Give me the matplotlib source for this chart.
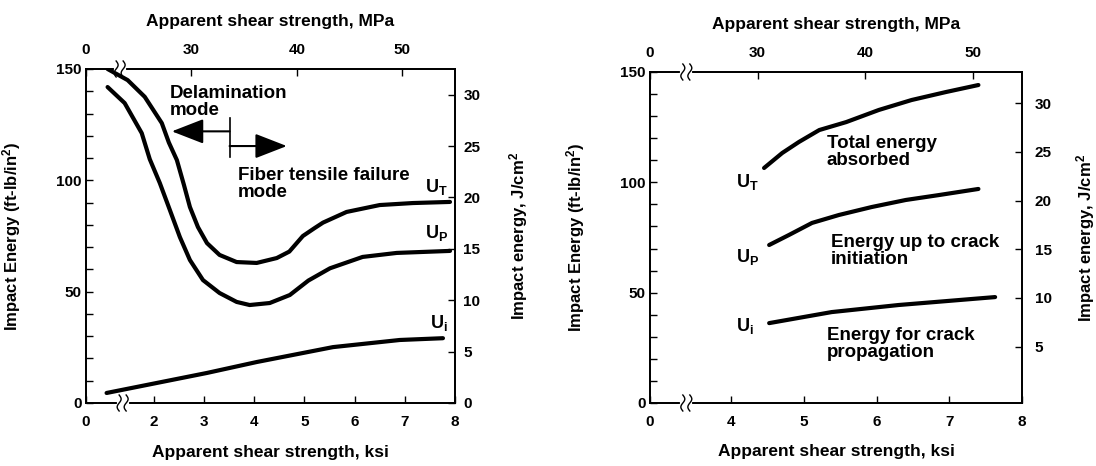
import numpy as np
import matplotlib
matplotlib.use("Agg")
import matplotlib.pyplot as plt
from matplotlib.lines import Line2D
from matplotlib.transforms import IdentityTransform

plt.rcParams['font.family'] = ['Liberation Sans', 'DejaVu Sans']
plt.rcParams['font.weight'] = 'bold'
plt.rcParams['axes.labelweight'] = 'bold'
plt.rcParams['mathtext.default'] = 'regular'

# left panel: apparent shear strength (ksi) vs impact energy (ft-lb/in2)
l_ut_k = [1.08, 1.48, 1.82, 2.16, 2.3, 2.46, 2.6, 2.72, 2.88, 3.06, 3.31, 3.65, 4.05,
          4.45, 4.7, 4.97, 5.2, 5.37, 5.84, 6.5, 7.16, 7.9]
l_ut_e = [150, 145, 137.5, 125.7, 117, 109.1, 98, 88, 79, 71.8, 66.5, 63.3, 62.9,
          65.1, 68, 75, 78.5, 81, 85.8, 88.9, 89.8, 90.3]
l_up_k = [1.08, 1.42, 1.76, 1.92, 2.12, 2.32, 2.52, 2.72, 2.98, 3.31, 3.65, 3.91,
          4.31, 4.71, 5.08, 5.51, 6.16, 6.84, 7.9]
l_up_e = [141.9, 134.7, 121.2, 109.5, 98.8, 86.7, 74.5, 64.2, 55.2, 49.4, 45.4, 44.0,
          44.9, 48.5, 55, 60.5, 65.6, 67.4, 68.3]
l_ui_k = [1.06, 3.06, 4.05, 5.57, 6.9, 7.76]
l_ui_e = [4.5, 13.5, 18.4, 25.1, 28.3, 29.1]

# right panel
r_ut_k = [4.45, 4.7, 4.93, 5.21, 5.58, 6.03, 6.48, 6.95, 7.4]
r_ut_e = [106.5, 113.3, 118.3, 123.7, 127.3, 132.8, 137.3, 140.9, 144.1]
r_up_k = [4.52, 4.79, 5.11, 5.48, 5.93, 6.4, 6.85, 7.4]
r_up_e = [71.6, 76.1, 81.6, 85.2, 88.8, 92.0, 94.2, 97.0]
r_ui_k = [4.52, 5.38, 6.3, 7.63]
r_ui_e = [36.2, 41.2, 44.4, 48]

fig = plt.figure(figsize=(10.96, 4.66), dpi=100)

W, H = 1096.0, 466.0


def make_axes(left, right, top, bottom):
    return fig.add_axes([left / W, 1 - bottom / H, (right - left) / W, (bottom - top) / H])


def style_axis(ax):
    for s in ax.spines.values():
        s.set_linewidth(1.1)


def brk(ax, xdata, yaxes):
    tr = ax.get_xaxis_transform()
    px, py = tr.transform((xdata, yaxes))
    fig.add_artist(Line2D([px - 4, px + 4], [py, py], color='white', lw=3,
                          transform=IdentityTransform(), zorder=10))
    t = np.linspace(-1, 1, 15)
    for dx in (-3.5, 3.5):
        xs = px + dx + 2.0 * np.sin(np.pi * t)
        ys = py + 8 * t
        fig.add_artist(Line2D(xs, ys, color='black', lw=1.0,
                              transform=IdentityTransform(), zorder=11))


def panel(ax, xmin, kticks, top_lim, r_lim, r_ticks, r_pad):
    ax.set_xlim(xmin, 8)
    ax.set_ylim(0, 150)
    ax.set_xticks([xmin] + kticks)
    ax.set_xticklabels(['0'] + [str(k) for k in kticks])
    ax.set_yticks([0, 50, 100, 150])
    ax.set_yticks(np.arange(10, 150, 10), minor=True)
    ax.tick_params(axis='x', direction='in', length=5, width=1, pad=8.5, labelsize=11)
    ax.tick_params(axis='y', which='both', direction='in', length=5, width=1, pad=3,
                   labelsize=11)
    style_axis(ax)
    ax.set_xlabel('Apparent shear strength, ksi', fontsize=12.5)
    ax.xaxis.set_label_coords(0.5, -0.125)
    ax.set_ylabel('Impact Energy (ft-lb/in$^2$)', fontsize=12)
    ax.yaxis.set_label_coords(-0.17, 0.5)

    axt = ax.twiny()
    axt.set_xlim(*top_lim)
    axt.set_xticks([top_lim[0], 30, 40, 50])
    axt.set_xticklabels(['0', '30', '40', '50'])
    axt.tick_params(axis='x', direction='in', length=5, width=1, pad=8.5, labelsize=11)
    axt.set_xlabel('Apparent shear strength, MPa', fontsize=12.5)
    axt.xaxis.set_label_coords(0.5, 1.13)

    axr = ax.twinx()
    axr.set_ylim(*r_lim)
    axr.set_yticks(r_ticks)
    axr.tick_params(axis='y', direction='in', length=5, width=1, pad=r_pad, labelsize=11)
    axr.set_ylabel('Impact energy, J/cm$^2$', fontsize=12)
    axr.yaxis.set_label_coords(1.14, 0.5)
    for a in (axt, axr):
        style_axis(a)
    return axt, axr


lw = 3.0
fs = 13.5

# ---- left panel
ax1 = make_axes(86, 455, 69, 403)
panel(ax1, 0.65, [2, 3, 4, 5, 6, 7, 8], (20, 55), (0, 32.5),
      [0, 5, 10, 15, 20, 25, 30], 6)
for k, e in ((l_ut_k, l_ut_e), (l_up_k, l_up_e), (l_ui_k, l_ui_e)):
    ax1.plot(k, e, color='black', lw=lw, solid_capstyle='round', solid_joinstyle='round',
             zorder=5)
ax1.text(7.4, 92.5, 'U$_T$', fontsize=13, va='bottom')
ax1.text(7.4, 72, 'U$_P$', fontsize=13, va='bottom')
ax1.text(7.5, 31.5, 'U$_i$', fontsize=13, va='bottom')
ax1.text(2.32, 143, 'Delamination\nmode', fontsize=fs, va='top', linespacing=1.0)
ax1.text(3.67, 106, 'Fiber tensile failure\nmode', fontsize=fs, va='top', linespacing=1.0)
ax1.plot([3.51, 3.51], [110.5, 128], color='black', lw=1.2)
ax1.annotate('', xy=(2.36, 122), xytext=(3.51, 122),
             arrowprops=dict(arrowstyle='-|>,head_length=0.9,head_width=0.35',
                             color='black', lw=1.5, shrinkA=0, shrinkB=0,
                             mutation_scale=22))
ax1.annotate('', xy=(4.65, 115.4), xytext=(3.51, 115.4),
             arrowprops=dict(arrowstyle='-|>,head_length=0.9,head_width=0.35',
                             color='black', lw=1.5, shrinkA=0, shrinkB=0,
                             mutation_scale=22))

# ---- right panel
ax2 = make_axes(650, 1022, 72, 403)
panel(ax2, 2.88, [4, 5, 6, 7, 8], (20, 54.6), (-0.8, 33.2),
      [5, 10, 15, 20, 25, 30], 9)
for k, e in ((r_ut_k, r_ut_e), (r_up_k, r_up_e), (r_ui_k, r_ui_e)):
    ax2.plot(k, e, color='black', lw=lw, solid_capstyle='round', solid_joinstyle='round',
             zorder=5)
ax2.text(4.07, 100, 'U$_T$', fontsize=13, va='center')
ax2.text(4.07, 66, 'U$_P$', fontsize=13, va='center')
ax2.text(4.07, 35, 'U$_i$', fontsize=13, va='center')
ax2.text(5.31, 121.5, 'Total energy\nabsorbed', fontsize=fs, va='top', linespacing=1.0)
ax2.text(5.37, 76.5, 'Energy up to crack\ninitiation', fontsize=fs, va='top',
         linespacing=1.0)
ax2.text(5.31, 34.5, 'Energy for crack\npropagation', fontsize=fs, va='top',
         linespacing=1.0)

fig.canvas.draw()
brk(ax1, 1.38, 0)
brk(ax1, 1.32, 1)
brk(ax2, 3.38, 0)
brk(ax2, 3.38, 1)

fig.savefig('out.png', dpi=100)
